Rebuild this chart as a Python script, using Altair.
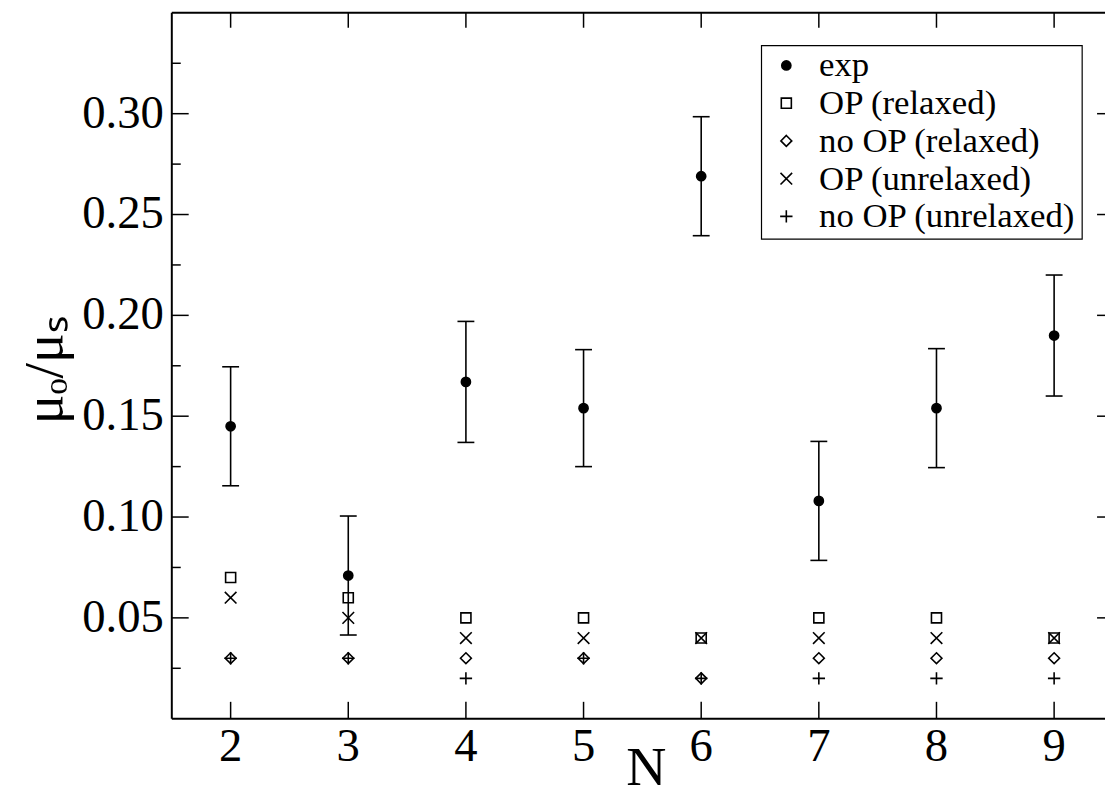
import altair as alt
import pandas as pd

# ---------------- data ----------------
N = [2, 3, 4, 5, 6, 7, 8, 9]
exp_vals = [0.145, 0.071, 0.167, 0.154, 0.269, 0.108, 0.154, 0.190]
exp_err = [0.0295, 0.0295, 0.0300, 0.0290, 0.0295, 0.0295, 0.0295, 0.0300]
op_relaxed = [0.07, 0.06, 0.05, 0.05, 0.04, 0.05, 0.05, 0.04]
noop_relaxed = [0.03, 0.03, 0.03, 0.03, 0.02, 0.03, 0.03, 0.03]
op_unrelaxed = [0.06, 0.05, 0.04, 0.04, 0.04, 0.04, 0.04, 0.04]
noop_unrelaxed = [0.03, 0.03, 0.02, 0.03, 0.02, 0.02, 0.02, 0.02]
series_names = ["exp", "OP (relaxed)", "no OP (relaxed)", "OP (unrelaxed)", "no OP (unrelaxed)"]

x_ticks = [2, 3, 4, 5, 6, 7, 8, 9]
x_tick_labels = ["2", "3", "4", "5", "6", "7", "8", "9"]
y_major = [0.05, 0.10, 0.15, 0.20, 0.25, 0.30]
y_tick_labels = ["0.05", "0.10", "0.15", "0.20", "0.25", "0.30"]
y_minor = [0.025, 0.075, 0.125, 0.175, 0.225, 0.275, 0.325]
x_title = "N"
y_title = "μₒ/μₛ"

# ---------------- tables ----------------
rows = []
for name, vals in zip(series_names, [exp_vals, op_relaxed, noop_relaxed, op_unrelaxed, noop_unrelaxed]):
    for n, v in zip(N, vals):
        rows.append({"N": n, "value": v, "series": name})
points_df = pd.DataFrame(rows)

err_df = pd.DataFrame({
    "N": N,
    "lo": [v - e for v, e in zip(exp_vals, exp_err)],
    "hi": [v + e for v, e in zip(exp_vals, exp_err)],
})
caps_df = pd.DataFrame(
    [{"N": n, "value": v - e} for n, v, e in zip(N, exp_vals, exp_err)]
    + [{"N": n, "value": v + e} for n, v, e in zip(N, exp_vals, exp_err)]
)
ymaj_df = pd.DataFrame({"v": y_major, "label": y_tick_labels})
ymin_df = pd.DataFrame({"v": y_minor})
xmaj_df = pd.DataFrame({"v": x_ticks, "label": x_tick_labels})
one_df = pd.DataFrame({"a": [0]})
xtitle_df = pd.DataFrame({"t": [x_title]})
ytitle_df = pd.DataFrame({"t": [y_title]})
legend_df = pd.DataFrame({"series": series_names})

# ---------------- styling ----------------
W, H = 940, 711
FONT = "Liberation Serif"
xs = alt.Scale(domain=[1.5, 9.4325], nice=False, zero=False)
ys = alt.Scale(domain=[0, 0.35], nice=False, zero=False)

shape_range = [
    "circle",
    "M-1,-1L1,-1L1,1L-1,1Z",
    "M0,-1L1,0L0,1L-1,0Z",
    "M-1,-1L1,1M-1,1L1,-1",
    "M-1,0L1,0M0,-1L0,1",
]
fill_range = ["black", "transparent", "transparent", "transparent", "transparent"]
size_range = [85, 155, 250, 100, 165]

shape_enc = alt.Shape("series:N", scale=alt.Scale(domain=series_names, range=shape_range), legend=None)
fill_enc = alt.Fill("series:N", scale=alt.Scale(domain=series_names, range=fill_range), legend=None)
size_enc = alt.Size("series:N", scale=alt.Scale(domain=series_names, range=size_range), legend=None)

pts = alt.Chart(points_df).mark_point(
    filled=False, stroke="black", strokeWidth=1.6, opacity=1
).encode(
    x=alt.X("N:Q", scale=xs, axis=None),
    y=alt.Y("value:Q", scale=ys, axis=None),
    shape=shape_enc, fill=fill_enc, size=size_enc,
)

err = alt.Chart(err_df).mark_rule(color="black", strokeWidth=1.6).encode(
    x=alt.X("N:Q", scale=xs, axis=None),
    y=alt.Y("lo:Q", scale=ys, axis=None),
    y2="hi:Q",
)
caps = alt.Chart(caps_df).mark_point(
    shape="M-1,0L1,0", size=289, filled=False, stroke="black", strokeWidth=1.6, opacity=1
).encode(
    x=alt.X("N:Q", scale=xs, axis=None),
    y=alt.Y("value:Q", scale=ys, axis=None),
)

# ---------------- frame, ticks and axis text ----------------
tick_style = dict(color="black", strokeWidth=1.5)
left_major = alt.Chart(ymaj_df).mark_rule(**tick_style).encode(
    y=alt.Y("v:Q", scale=ys, axis=None), x=alt.value(0), x2=alt.value(17))
left_minor = alt.Chart(ymin_df).mark_rule(**tick_style).encode(
    y=alt.Y("v:Q", scale=ys, axis=None), x=alt.value(0), x2=alt.value(9))
right_major = alt.Chart(ymaj_df).mark_rule(**tick_style).encode(
    y=alt.Y("v:Q", scale=ys, axis=None), x=alt.value(W - 8), x2=alt.value(W))
bottom_major = alt.Chart(xmaj_df).mark_rule(**tick_style).encode(
    x=alt.X("v:Q", scale=xs, axis=None), y=alt.value(H), y2=alt.value(H - 17))
top_major = alt.Chart(xmaj_df).mark_rule(**tick_style).encode(
    x=alt.X("v:Q", scale=xs, axis=None), y=alt.value(0), y2=alt.value(15))
frame_style = dict(color="black", strokeWidth=2)
top_frame = alt.Chart(one_df).mark_rule(**frame_style).encode(
    x=alt.value(0), x2=alt.value(W), y=alt.value(0))
bottom_frame = alt.Chart(one_df).mark_rule(**frame_style).encode(
    x=alt.value(0), x2=alt.value(W), y=alt.value(H))
left_frame = alt.Chart(one_df).mark_rule(**frame_style).encode(
    x=alt.value(0), y=alt.value(0), y2=alt.value(H))

y_labels = alt.Chart(ymaj_df).mark_text(
    align="right", baseline="middle", font=FONT, fontSize=47, color="black"
).encode(y=alt.Y("v:Q", scale=ys, axis=None), x=alt.value(-8), text="label:N")
x_labels = alt.Chart(xmaj_df).mark_text(
    align="center", baseline="top", font=FONT, fontSize=47, color="black"
).encode(x=alt.X("v:Q", scale=xs, axis=None), y=alt.value(H + 6), text="label:N")
x_title_mark = alt.Chart(xtitle_df).mark_text(
    align="center", baseline="alphabetic", font=FONT, fontSize=56, color="black"
).encode(x=alt.value(478), y=alt.value(H + 67), text="t:N")
y_title_mark = alt.Chart(ytitle_df).mark_text(
    align="center", baseline="middle", font=FONT, fontSize=56, color="black", angle=270
).encode(x=alt.value(-128), y=alt.value(360), text="t:N")

main = alt.layer(
    top_frame, bottom_frame, left_frame, left_major, left_minor, right_major,
    bottom_major, top_major, y_labels, x_labels, x_title_mark, y_title_mark,
    err, caps, pts,
)

# ---------------- legend (drawn with its own row scale) ----------------
row_scale = alt.Scale(domain=series_names, range=[53, 205], padding=0)
legend_box = alt.Chart(one_df).mark_rect(
    fill="white", stroke="black", strokeWidth=1.2
).encode(x=alt.value(594), x2=alt.value(917), y=alt.value(33), y2=alt.value(228))
legend_sym = alt.Chart(legend_df).mark_point(
    filled=False, stroke="black", strokeWidth=1.6, opacity=1
).encode(
    x=alt.value(619),
    y=alt.Y("series:N", scale=row_scale, axis=None),
    shape=shape_enc, fill=fill_enc, size=size_enc,
)
legend_txt = alt.Chart(legend_df).mark_text(
    align="left", baseline="middle", font=FONT, fontSize=35, color="black"
).encode(
    x=alt.value(652),
    y=alt.Y("series:N", scale=row_scale, axis=None),
    text="series:N",
)
legend_layer = alt.layer(legend_box, legend_sym, legend_txt)

chart = alt.layer(main, legend_layer).resolve_scale(y="independent").properties(
    width=W, height=H,
    padding={"left": 165, "top": 2, "right": 0, "bottom": 79},
    autosize=alt.AutoSizeParams(type="none"),
    background="white",
).configure_view(stroke=None)

chart.save("out.html", embed_options={"renderer": "svg", "actions": False})
